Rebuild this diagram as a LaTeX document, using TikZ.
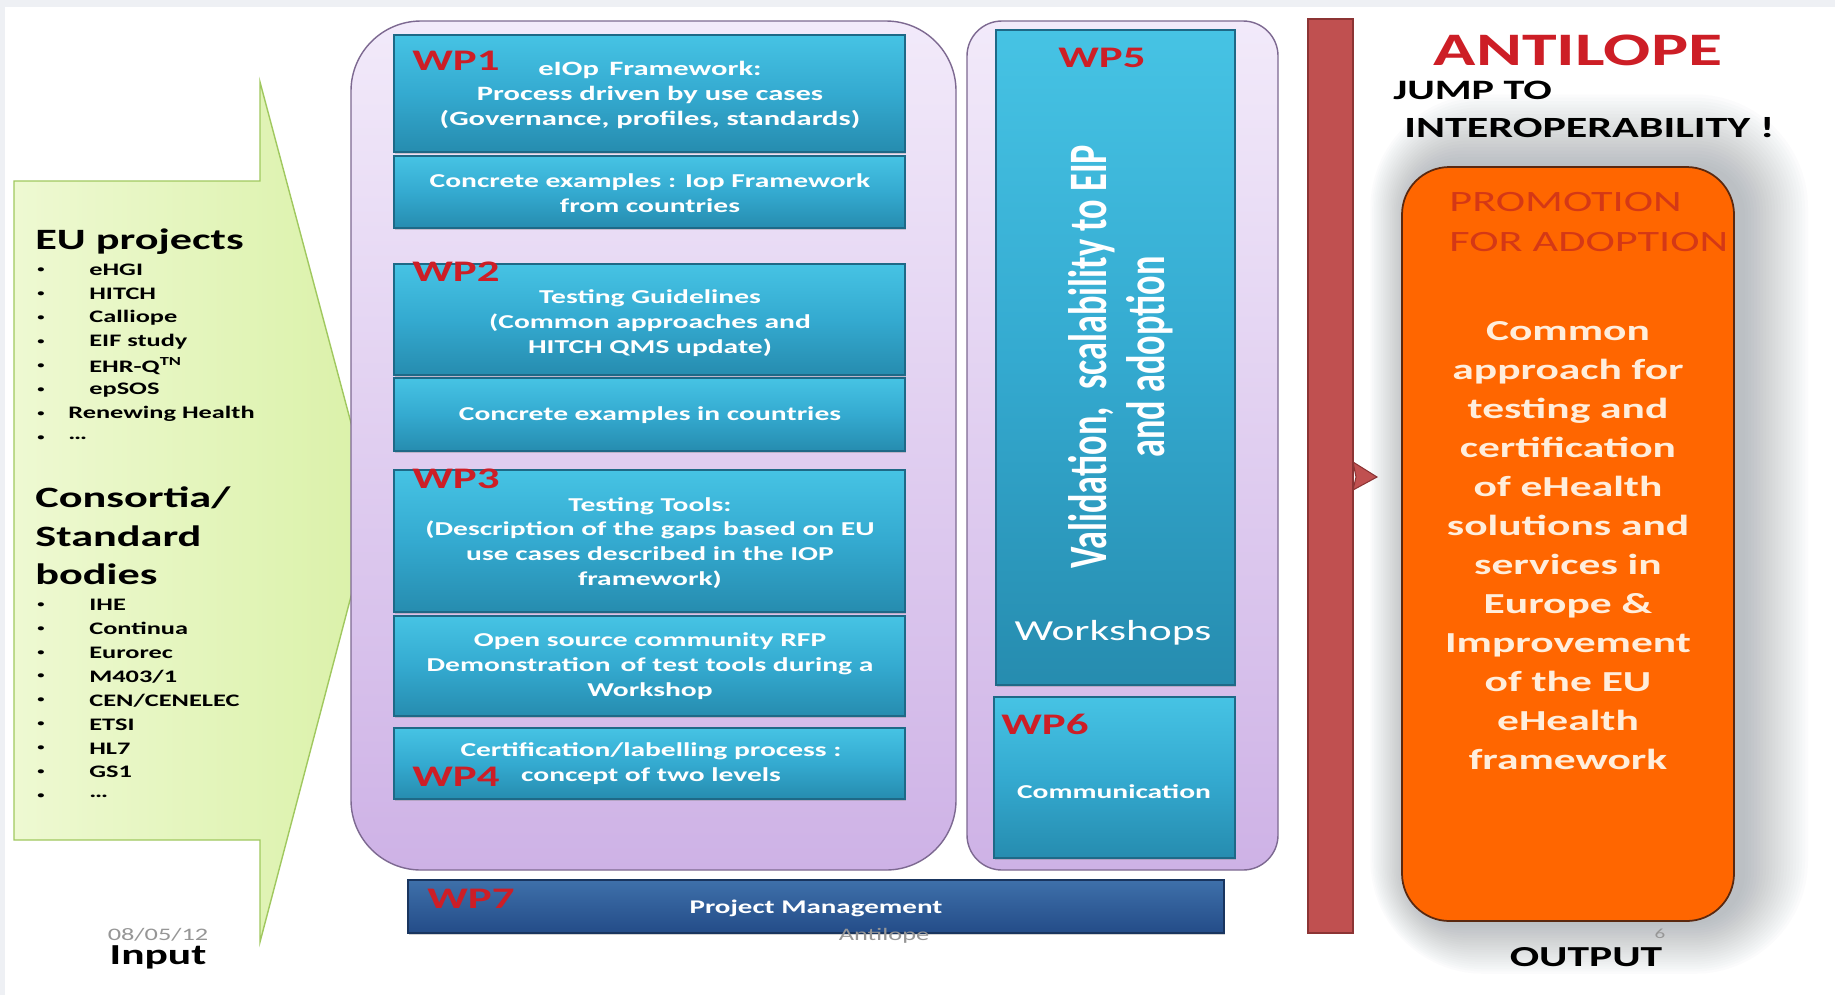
\documentclass[tikz,border=0pt]{standalone}
\usepackage{fontspec}
\setmainfont{Carlito}[FakeStretch=1.5]
\newfontfamily\tallfont{Carlito}[FakeStretch=0.67]
\usetikzlibrary{shadows}

\definecolor{bggray}{RGB}{238,240,244}
\definecolor{arrowleft}{RGB}{238,249,210}
\definecolor{arrowright}{RGB}{218,241,168}
\definecolor{arrowedge}{RGB}{160,200,95}
\definecolor{lilactop}{RGB}{242,234,250}
\definecolor{lilacbot}{RGB}{206,178,230}
\definecolor{lilacedge}{RGB}{125,105,145}
\definecolor{wptop}{RGB}{70,195,228}
\definecolor{wpmid}{RGB}{52,170,208}
\definecolor{wpbot}{RGB}{38,140,175}
\definecolor{wpedge}{RGB}{30,105,135}
\definecolor{wpred}{RGB}{205,30,38}
\definecolor{pmtop}{RGB}{62,112,170}
\definecolor{pmbot}{RGB}{36,76,136}
\definecolor{barred}{RGB}{192,80,80}
\definecolor{baredge}{RGB}{140,52,52}
\definecolor{outorange}{RGB}{255,102,0}
\definecolor{outedge}{RGB}{90,40,15}
\definecolor{promo}{RGB}{212,56,22}
\definecolor{outtext}{RGB}{255,238,220}
\definecolor{footgray}{RGB}{150,150,150}
\definecolor{glow}{RGB}{90,100,110}

\tikzset{
  wpbox/.style={draw=wpedge, line width=0.6pt, top color=wptop, bottom color=wpbot,
    middle color=wpmid, drop shadow={opacity=0.35, shadow xshift=0.8pt, shadow yshift=-1.2pt}},
  wptext/.style={text=white, align=center, font=\bfseries\fontsize{11.2}{14.2}\selectfont},
  wplabel/.style={anchor=west, inner sep=0pt, text=wpred, font=\bfseries\fontsize{17}{20}\selectfont},
  lilac/.style={draw=lilacedge, line width=0.8pt, top color=lilactop, bottom color=lilacbot},
  heading/.style={anchor=west, inner sep=0pt, align=left, font=\bfseries\fontsize{16.8}{22}\selectfont},
  item/.style={anchor=west, inner sep=0pt, font=\bfseries\fontsize{10}{12}\selectfont},
  dot/.style={anchor=west, inner sep=0pt, font=\bfseries\fontsize{5.5}{7}\selectfont},
  foot/.style={text=footgray, font=\fontsize{10}{12}\selectfont},
  bigfoot/.style={font=\bfseries\fontsize{16.5}{20}\selectfont}
}

\begin{document}
\begin{tikzpicture}[x=0.02cm, y=-0.02cm]
  \useasboundingbox (0,0) rectangle (1835,995);
  \fill[white] (0,0) rectangle (1835,995);
  \fill[bggray] (0,0) rectangle (1835,7);
  \fill[bggray] (0,0) rectangle (5,995);

  % input arrow
  \draw[draw=arrowedge, line width=0.8pt, left color=arrowleft, right color=arrowright]
    (14,181) -- (260,181) -- (260,82) -- (374,509) -- (260,942) -- (260,840) -- (14,840) -- cycle;
  \node[heading] (euhead) at (35,242) {EU projects};
  \foreach \x/\t [count=\i] in {89/eHGI, 89/HITCH, 89/Calliope, 89/EIF study,
      89/EHR-Q\textsuperscript{TN}, 89/epSOS, 68/Renewing Health, 68/\ldots} {
    \node[dot] (eudot\i) at (37,246+24*\i) {•};
    \node[item] (eu\i) at (\x,246+24*\i) {\t};
  }
  \node[heading] (sdohead) at (35,536) {Consortia/\\Standard\\bodies};
  \foreach \t [count=\i] in {IHE, Continua, Eurorec, {M403/1}, {CEN/CENELEC}, ETSI, HL7, GS1, \ldots} {
    \node[dot] (sdodot\i) at (37,581+23.9*\i) {•};
    \node[item] (sdo\i) at (89,581+23.9*\i) {\t};
  }

  % work package frames
  \draw[lilac, rounded corners=1.4cm] (351,21) rectangle (956,870);
  \draw[lilac, rounded corners=0.7cm] (967,21) rectangle (1278,870);
  \foreach \xa/\ya/\xb/\yb in {394/35/905/152, 394/156/905/228, 394/264/905/375, 394/378/905/451,
      394/470/905/612, 394/616/905/716, 394/728/905/799, 996/30/1235/685, 994/697/1235/858}
    \draw[wpbox] (\xa,\ya) rectangle (\xb,\yb);
  \draw[draw=pmbot!70!black, line width=0.6pt, top color=pmtop, bottom color=pmbot,
    drop shadow={opacity=0.35, shadow xshift=0.8pt, shadow yshift=-1.2pt}] (408,880) rectangle (1224,933);

  \node[wptext, font=\bfseries\fontsize{11.6}{14.4}\selectfont] (eiop) at (650,95)
    {eIOp\, Framework:\\Process driven by use cases\\(Governance, profiles, standards)};
  \node[wptext] (iopex) at (650,193) {Concrete examples : Iop Framework\\from countries};
  \node[wptext] (guide) at (650,323) {Testing Guidelines\\(Common approaches and\\HITCH QMS update)};
  \node[wptext] (guideex) at (650,415) {Concrete examples in countries};
  \node[wptext] (tools) at (650,543) {Testing Tools:\\(Description of the gaps based on EU\\use cases described in the IOP\\framework)};
  \node[wptext] (rfp) at (650,666) {Open source community RFP\\Demonstration\, of test tools during a\\Workshop};
  \node[wptext] (cert) at (651,764) {Certification/labelling process :\\concept of two levels};
  \node[wptext, rotate=90, font=\tallfont\bfseries\fontsize{30.8}{33}\selectfont] (valid) at (1121,357)
    {Validation,\, scalability to EIP\\and adoption};
  \node[text=white, font=\fontsize{16.5}{20}\selectfont] (wshop) at (1113,633) {Workshops};
  \node[wptext] (comm) at (1114,792) {Communication};
  \node[wptext, font=\bfseries\fontsize{11}{14}\selectfont] (pm) at (816,908) {Project Management};

  \node[wplabel] (wp1) at (412,61) {WP1};
  \node[wplabel] (wp2) at (412,272) {WP2};
  \node[wplabel] (wp3) at (412,479) {WP3};
  \node[wplabel] (wp4) at (412,777) {WP4};
  \node[wplabel] (wp5) at (1058,58) {WP5};
  \node[wplabel] (wp6) at (1001,724) {WP6};
  \node[wplabel] (wp7) at (427,899) {WP7};

  % jump bar
  \draw[draw=baredge, line width=0.6pt, fill=barred] (1308,19) rectangle (1353,933);
  \draw[draw=baredge, line width=0.6pt, fill=barred] (1353,462) -- (1377,477) -- (1353,490) -- (1356,477) -- cycle;

  % output box with soft glow
  \foreach \d in {3,6,...,66}
    \fill[glow, opacity=0.018, rounded corners=0.95cm+\d*0.02cm]
      (1410-0.6*\d,167-1.1*\d) rectangle (1742+\d,921+0.8*\d);
  \draw[draw=outedge, line width=1pt, fill=outorange, rounded corners=0.95cm] (1402,167) rectangle (1734,921);
  \node[anchor=west, inner sep=0pt, align=left, text=promo, font=\fontsize{16.8}{22.7}\selectfont]
    (promo) at (1449,222) {PROMOTION\\FOR ADOPTION};
  \node[align=center, text=outtext, font=\bfseries\fontsize{16.5}{22.2}\selectfont] (goal) at (1568,546)
    {Common\\approach for\\testing and\\certification\\of eHealth\\solutions and\\services in\\Europe \&\\Improvement\\of the EU\\eHealth\\framework};
  \node[text=wpred, font=\bfseries\fontsize{26.5}{30}\selectfont] (title) at (1578,50) {ANTILOPE};
  \node[anchor=west, inner sep=0pt, font=\bfseries\fontsize{16}{20}\selectfont] (jump) at (1393,90) {JUMP TO};
  \node[anchor=west, inner sep=0pt, font=\bfseries\fontsize{16.7}{20}\selectfont] (interop) at (1404,128) {INTEROPERABILITY !};

  % footer
  \node[foot] (date) at (158,935) {08/05/12};
  \node[foot] (proj) at (884,936) {Antilope};
  \node[foot, font=\fontsize{8}{10}\selectfont] (page) at (1660,934) {6};
  \node[bigfoot] (input) at (158,957) {Input};
  \node[bigfoot] (output) at (1586,957) {OUTPUT};
\end{tikzpicture}
\end{document}
